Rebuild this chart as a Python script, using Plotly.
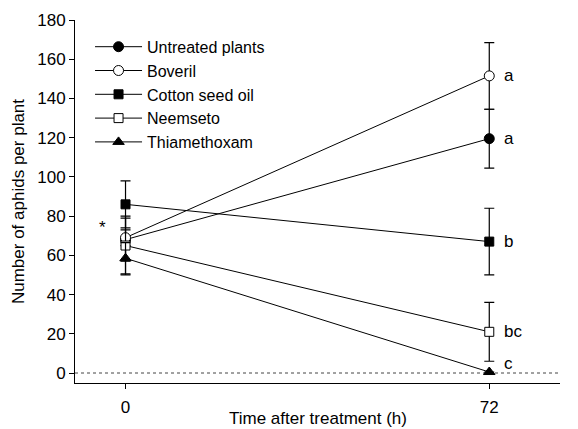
import plotly.graph_objects as go

times = [0, 72]
series_names = ["Untreated plants", "Boveril", "Cotton seed oil", "Neemseto", "Thiamethoxam"]
untreated = [68, 119.5]
untreated_err = [11, 15]
boveril = [69, 151.5]
boveril_err = [4, 17]
cotton = [86, 67]
cotton_err = [12, 17]
neemseto = [65, 21]
neemseto_err = [15, 15]
thiamethoxam = [58.5, 0.5]
thiamethoxam_err = [8, 0]
letters = ["a", "a", "b", "bc", "c"]
letter_y = [119.5, 151.5, 67, 21, 5]
star_y = 74
y_ticks = [0, 20, 40, 60, 80, 100, 120, 140, 160, 180]
x_ticks = [0, 72]

values = [untreated, boveril, cotton, neemseto, thiamethoxam]
errors = [untreated_err, boveril_err, cotton_err, neemseto_err, thiamethoxam_err]
symbols = ["circle", "circle", "square", "square", "triangle-up"]
fills = ["black", "white", "black", "white", "black"]
sizes = [10, 10, 9, 9, 10]

font = "Arial, Liberation Sans, sans-serif"
fs = 17
fig = go.Figure()
for name, v, e, s, f, sz in zip(series_names, values, errors, symbols, fills, sizes):
    fig.add_trace(go.Scatter(
        x=times, y=v, name=name, mode="lines+markers",
        line=dict(color="black", width=1),
        marker=dict(symbol=s, size=sz, color=f, line=dict(color="black", width=1)),
        error_y=dict(type="data", array=e, color="black", thickness=1.2, width=5, visible=True),
    ))

fig.add_shape(type="line", xref="paper", x0=0, x1=1, yref="y", y0=0, y1=0,
              line=dict(color="#444", width=1, dash="dot"), layer="below")

for lt, ly in zip(letters, letter_y):
    fig.add_annotation(x=72, y=ly, text=lt, showarrow=False, xanchor="left",
                       xshift=13, font=dict(family=font, size=fs, color="black"))
fig.add_annotation(x=0, y=star_y, text="*", showarrow=False, xshift=-23,
                   font=dict(family=font, size=fs, color="black"))
fig.add_annotation(x=0.5, xref="paper", y=0, yref="paper", yanchor="top", yshift=-24,
                   text="Time after treatment (h)", showarrow=False,
                   font=dict(family=font, size=fs, color="black"))

fig.update_layout(
    width=570, height=421,
    margin=dict(l=67, r=18, t=12, b=46),
    paper_bgcolor="white", plot_bgcolor="white",
    font=dict(family=font, size=fs, color="black"),
    showlegend=True,
    legend=dict(x=0.031, y=0.973, xanchor="left", yanchor="top", bgcolor="rgba(0,0,0,0)",
                font=dict(size=16), tracegroupgap=0, itemwidth=47),
    xaxis=dict(range=[-10, 86], tickvals=x_ticks, ticks="outside", ticklen=5, tickcolor="black",
               showline=True, linecolor="black", linewidth=1, showgrid=False, zeroline=False,
               automargin=False, ticklabelstandoff=4),
    yaxis=dict(range=[-5.1, 180], tickvals=y_ticks, ticks="outside", ticklen=5, tickcolor="black",
               showline=True, linecolor="black", linewidth=1, showgrid=False, zeroline=False,
               automargin=False,
               title=dict(text="Number of aphids per plant", standoff=8, font=dict(size=fs))),
)
fig.write_html("out.html")
